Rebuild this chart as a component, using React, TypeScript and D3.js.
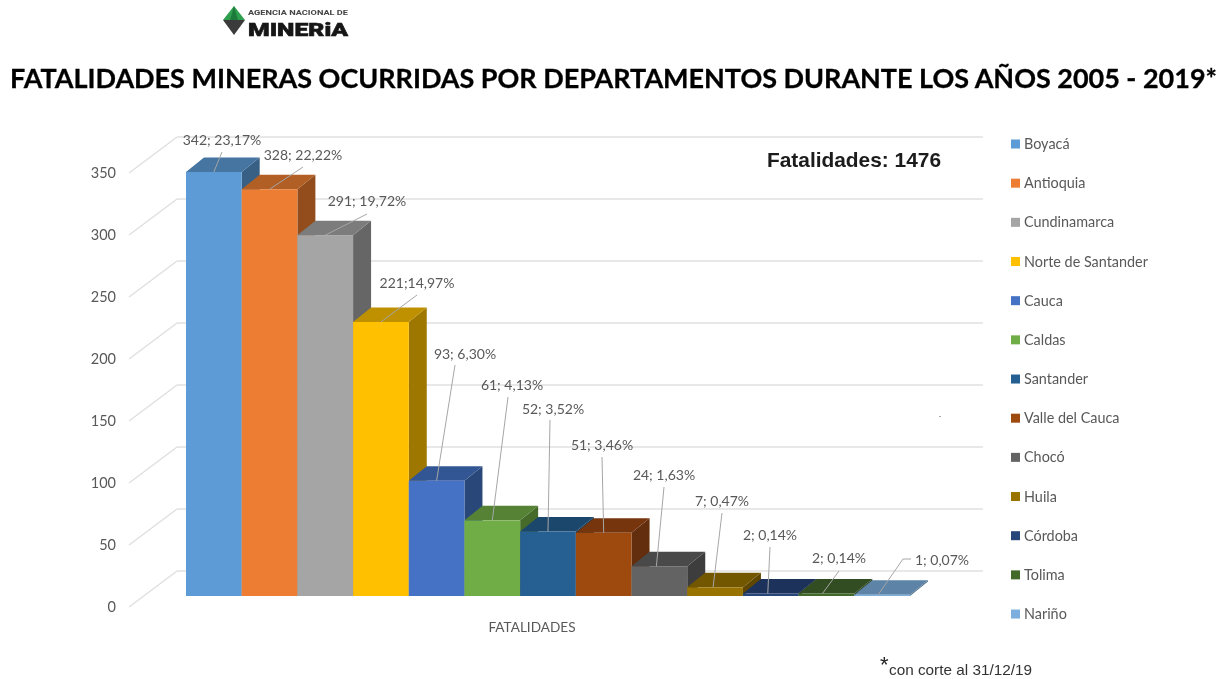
import React from "react";
import * as d3 from "d3";

const departments = ["Boyacá","Antioquia","Cundinamarca","Norte de Santander","Cauca","Caldas","Santander","Valle del Cauca","Chocó","Huila","Córdoba","Tolima","Nariño"];
const fatalities = [342,328,291,221,93,61,52,51,24,7,2,2,1];
const valueLabels = ["342; 23,17%","328; 22,22%","291; 19,72%","221;14,97%","93; 6,30%","61; 4,13%","52; 3,52%","51; 3,46%","24; 1,63%","7; 0,47%","2; 0,14%","2; 0,14%","1; 0,07%"];
const colors = ["#5b9bd5","#ed7d31","#a5a5a5","#ffc000","#4472c4","#70ad47","#255e91","#9e480e","#636363","#997300","#264478","#43682b","#7cafdd"];
const yTicks = [0,50,100,150,200,250,300,350];
// label centre x, label centre y, leader start x, leader start y
const labelX = [222,303,367,417,465,512,553,602,664,722,770,839,942];
const labelY = [140,155,201,283,354,385,409,445,475,501,535,558,560];
const leadX = [222,303,367,417,455,508,550,602,664,722,770,839,911];
const leadY = [152,167,214,295,365,397,420,457,487,513,547,571,559];
const leadEndShift = [0,0,0,0,0,0,0,0,-3,-2,-3,-4,-4];

const FONT = "Lato, 'Open Sans', sans-serif";
const TEXT = "#595959";
const GRID = "#e0e0e0";
const DX = 18, DY = 14.5;

const x = d3.scaleBand<number>().domain(d3.range(departments.length)).range([186, 910]).padding(0);
const y = d3.scaleLinear().domain([0, 350]).range([596, 162]);
const shade = (c: string, k: number) => {
  const r = d3.rgb(c);
  return d3.rgb(r.r * k, r.g * k, r.b * k).formatHex();
};
const poly = (pts: number[][]) => d3.line()(pts as [number, number][]) + "Z";

export default function App() {
  const w = x.bandwidth();
  return (
    <svg width={1228} height={679} style={{ position: "absolute", left: 0, top: 0, background: "#fff" }}>
      <defs>
        <filter id="soft" x="-5%" y="-5%" width="110%" height="110%">
          <feGaussianBlur stdDeviation="0.45" />
        </filter>
      </defs>
      <g filter="url(#soft)">
        {/* logo */}
        <path d={poly([[234, 6], [245, 20], [223, 20]])} fill="#2f9e4f" />
        <path d={poly([[223, 20], [245, 20], [234, 35]])} fill="#3a3a3a" />
        <path d={poly([[234, 6], [238, 20], [230, 20]])} fill="#1f7a3a" />
        <text x={248} y={14.5} fontFamily="Roboto, sans-serif" fontWeight={700} fontSize={7.5} textLength={100} lengthAdjust="spacingAndGlyphs" fill="#444">AGENCIA NACIONAL DE</text>
        <text x={248} y={35.5} fontFamily="Roboto, sans-serif" fontWeight={900} fontSize={19} textLength={100} lengthAdjust="spacingAndGlyphs" stroke="#151515" strokeWidth={0.6} fill="#151515">MINERiA</text>

        <text x={613.5} y={88} textAnchor="middle" fontFamily={FONT} fontWeight={700} fontSize={26} textLength={1207} lengthAdjust="spacingAndGlyphs" stroke="#000" strokeWidth={0.3} fill="#000">FATALIDADES MINERAS OCURRIDAS POR DEPARTAMENTOS DURANTE LOS AÑOS 2005 - 2019*</text>

        {/* walls */}
        {yTicks.map(t => {
          const yy = y(t);
          return (
            <g key={t}>
              <line x1={129} y1={yy + 11} x2={129 + 48} y2={yy - 25} stroke={GRID} strokeWidth={1.5} />
              <line x1={177} y1={yy - 25} x2={983} y2={yy - 25} stroke={GRID} strokeWidth={1.5} />
              <text x={116} y={yy + 11} dy="0.35em" textAnchor="end" fontFamily={FONT} fontSize={14.5} fill={TEXT}>{t}</text>
            </g>
          );
        })}

        {/* bars */}
        {fatalities.map((v, i) => {
          const x0 = x(i)!, x1 = x0 + w, yb = y(0), yt = y(v);
          return (
            <g key={departments[i]}>
              <path d={poly([[x1, yb], [x1 + DX, yb - DY], [x1 + DX, yt - DY], [x1, yt]])} fill={shade(colors[i], 0.62)} />
              <path d={poly([[x0, yt], [x0 + DX, yt - DY], [x1 + DX, yt - DY], [x1, yt]])} fill={shade(colors[i], 0.75)} />
              <rect x={x0} y={yt} width={w} height={yb - yt} fill={colors[i]} />
            </g>
          );
        })}

        {/* leaders and labels */}
        {fatalities.map((v, i) => {
          const xc = x(i)! + w / 2 + leadEndShift[i];
          const pts = i === 12
            ? [[leadX[i], leadY[i]], [leadX[i] - 8, leadY[i]], [xc, y(v)]]
            : [[leadX[i], leadY[i]], [xc, y(v)]];
          return (
            <g key={i}>
              <path d={d3.line()(pts as [number, number][])!} fill="none" stroke="#a6a6a6" strokeWidth={1} />
              <text x={labelX[i]} y={labelY[i]} dy="0.35em" textAnchor="middle" fontFamily={FONT} fontSize={14} fill={TEXT}>{valueLabels[i]}</text>
            </g>
          );
        })}

        <text x={532} y={627} dy="0.35em" textAnchor="middle" fontFamily={FONT} fontSize={13.6} fill={TEXT}>FATALIDADES</text>

        <text x={767} y={167} fontFamily="'Liberation Sans', Arial, sans-serif" fontWeight={700} fontSize={20.8} textLength={174} lengthAdjust="spacingAndGlyphs" fill="#1a1a1a">Fatalidades: 1476</text>

        {/* legend */}
        {departments.map((d, i) => {
          const ly = 144 + i * 39.17;
          return (
            <g key={d}>
              <rect x={1011} y={ly - 4.5} width={9} height={9} fill={colors[i]} />
              <text x={1024} y={ly} dy="0.35em" fontFamily={FONT} fontSize={14.4} fill={TEXT}>{d}</text>
            </g>
          );
        })}

        <rect x={939.5} y={416} width={1} height={1} fill="#555" />

        <text x={880} y={672} fontFamily="'Liberation Sans', Arial, sans-serif" fontSize={22} fill="#222">*</text>
        <text x={889} y={675} fontFamily="'Liberation Sans', Arial, sans-serif" fontSize={15} textLength={143} lengthAdjust="spacingAndGlyphs" fill="#333">con corte al 31/12/19</text>
      </g>
    </svg>
  );
}
